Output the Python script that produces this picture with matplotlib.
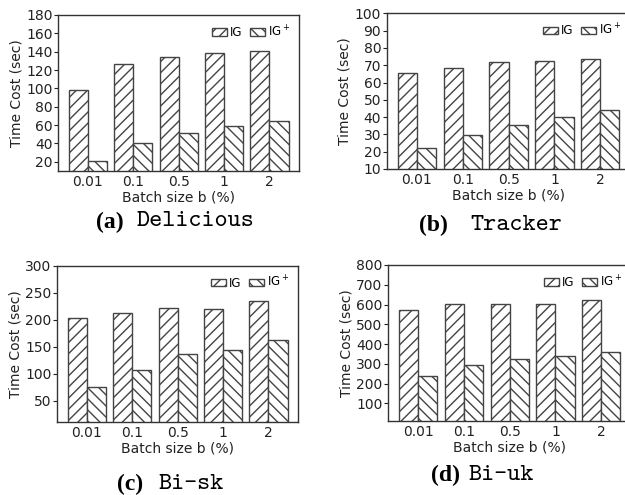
import matplotlib
matplotlib.use("Agg")
import matplotlib.pyplot as plt
import numpy as np

batch_labels = ["0.01", "0.1", "0.5", "1", "2"]

delicious_ig = [98, 127, 134.5, 138.5, 140.5]
delicious_igp = [21, 41, 51, 59, 64]
tracker_ig = [65.6, 68.1, 72.1, 72.3, 73.3]
tracker_igp = [22, 29.8, 35.7, 40, 44]
bisk_ig = [202.5, 211.5, 222.5, 220.5, 234]
bisk_igp = [74.5, 107, 136, 143.5, 161.5]
biuk_ig = [573, 602, 604, 605, 621]
biuk_igp = [237, 293, 326, 338, 358]

W, H = 625, 495
fig = plt.figure(figsize=(W / 100, H / 100), dpi=100)

def rect(l, t, r, b):
    return [l / W, 1 - b / H, (r - l) / W, (b - t) / H]

panels = [
    (rect(58, 15, 299, 171), delicious_ig, delicious_igp, (10, 180), np.arange(20, 181, 20)),
    (rect(386.7, 13.3, 630, 169), tracker_ig, tracker_igp, (10, 100), np.arange(10, 101, 10)),
    (rect(57, 265.7, 298, 422.3), bisk_ig, bisk_igp, (10, 300), np.arange(50, 301, 50)),
    (rect(388, 265, 631, 421.3), biuk_ig, biuk_igp, (10, 800), np.arange(100, 801, 100)),
]

ec = "#444444"
x = np.arange(len(batch_labels))
bw = 0.42
for pos, ig, igp, ylim, yt in panels:
    ax = fig.add_axes(pos)
    ax.bar(x - bw / 2, ig, bw, facecolor="white", edgecolor=ec, hatch="///", linewidth=1.0, label="IG")
    ax.bar(x + bw / 2, igp, bw, facecolor="white", edgecolor=ec, hatch="\\\\\\", linewidth=1.0, label="IG$^+$")
    ax.set_xlim(-0.66, 4.65)
    ax.set_ylim(*ylim)
    ax.set_yticks(yt)
    ax.set_xticks(x)
    ax.set_xticklabels(batch_labels)
    ax.tick_params(labelsize=10, width=0.8, colors="#222222")
    ax.tick_params(axis="x", length=0, pad=3)
    ax.tick_params(axis="y", length=3, pad=1)
    ax.set_xlabel("Batch size b (%)", fontsize=10, labelpad=1, color="#222222")
    ax.set_ylabel("Time Cost (sec)", fontsize=10, labelpad=2, color="#222222")
    for s in ax.spines.values():
        s.set_color("#333333")
        s.set_linewidth(1.0)
    ax.legend(loc="upper right", ncol=2, frameon=False, fontsize=8.5,
              handlelength=1.3, handleheight=0.55, handletextpad=0.2,
              columnspacing=0.7, borderaxespad=0.35)

captions = [
    ("(a)", "Delicious", 124, 137, 222),
    ("(b)", "Tracker", 448.3, 470, 225.7),
    ("(c)", "Bi-sk", 143.3, 158, 484.3),
    ("(d)", "Bi-uk", 460, 468, 475),
]
for tag, name, xr, xl, yc in captions:
    fig.text(xr / W, 1 - yc / H, tag, ha="right", va="center", fontsize=17,
             fontweight="bold", family="Liberation Serif")
    fig.text(xl / W, 1 - yc / H, name, ha="left", va="center", fontsize=18,
             family="cmtt10")

fig.savefig("out.png", dpi=100)
